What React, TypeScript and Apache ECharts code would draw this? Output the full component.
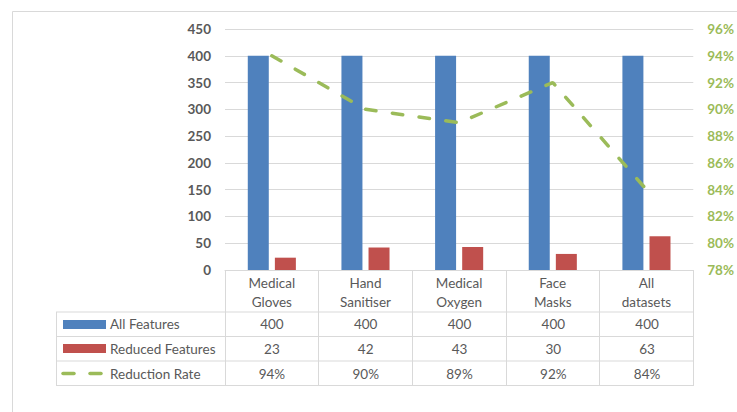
import React, { useEffect, useRef } from "react";
import * as echarts from "echarts";

const categories = ["Medical Gloves", "Hand Sanitiser", "Medical Oxygen", "Face Masks", "All datasets"];
const allFeatures = [400, 400, 400, 400, 400];
const reducedFeatures = [23, 42, 43, 30, 63];
const reductionRate = [94, 90, 89, 92, 84];
const seriesNames = ["All Features", "Reduced Features", "Reduction Rate"];

const BLUE = "#4F81BD";
const RED = "#C0504D";
const GREEN = "#9BBB59";
const GRID = "#D9D9D9";
const TEXT = "#595959";
const FONT = "Lato";

const W = 737;
const H = 412;
const PL = 225;
const PR = 694;
const PT = 29;
const PB = 270;

export default function App() {
  const ref = useRef<HTMLDivElement>(null);
  useEffect(() => {
    if (!ref.current) return;
    const chart = echarts.init(ref.current, undefined, { renderer: "svg" });
    const cellW = (PR - PL) / categories.length;
    const rowY = [312, 336.5, 361, 385.5];
    const rowMid = [323.5, 349, 373.5];
    const graphics: any[] = [];
    graphics.push({
      type: "rect",
      silent: true,
      shape: { x: 12.5, y: 11.5, width: 900, height: 600 },
      style: { fill: "none", stroke: GRID, lineWidth: 1 },
    });
    rowY.forEach((y) => {
      graphics.push({
        type: "line",
        silent: true,
        shape: { x1: 56, y1: y, x2: PR, y2: y },
        style: { stroke: GRID, lineWidth: 1 },
      });
    });
    graphics.push({
      type: "line",
      silent: true,
      shape: { x1: 56.5, y1: rowY[0], x2: 56.5, y2: rowY[3] },
      style: { stroke: GRID, lineWidth: 1 },
    });
    // legend keys
    graphics.push({ type: "rect", silent: true, shape: { x: 63, y: 320, width: 43, height: 9 }, style: { fill: BLUE } });
    graphics.push({ type: "rect", silent: true, shape: { x: 63, y: 344, width: 43, height: 9 }, style: { fill: RED } });
    [[63, 74], [90, 101]].forEach(([a, b]) => {
      graphics.push({
        type: "line",
        silent: true,
        shape: { x1: a, y1: 373.5, x2: b, y2: 373.5 },
        style: { stroke: GREEN, lineWidth: 3.5, lineCap: "round" },
      });
    });
    seriesNames.forEach((n, r) => {
      graphics.push({
        type: "text",
        silent: true,
        x: 110,
        y: rowMid[r],
        style: { text: n, fill: TEXT, font: `13.5px ${FONT}`, verticalAlign: "middle", align: "left" },
      });
    });
    const rows = [
      allFeatures.map((v) => String(v)),
      reducedFeatures.map((v) => String(v)),
      reductionRate.map((v) => v + "%"),
    ];
    rows.forEach((row, r) => {
      row.forEach((t, i) => {
        graphics.push({
          type: "text",
          silent: true,
          x: PL + (i + 0.5) * cellW,
          y: rowMid[r],
          style: { text: t, fill: TEXT, font: `13.5px ${FONT}`, verticalAlign: "middle", align: "center" },
        });
      });
    });

    chart.setOption({
      animation: false,
      backgroundColor: "#ffffff",
      grid: { left: PL, right: W - PR, top: PT, bottom: H - PB, containLabel: false },
      xAxis: {
        type: "category",
        data: categories,
        boundaryGap: true,
        axisLine: { show: true, lineStyle: { color: GRID, width: 1 } },
        axisTick: { show: true, length: 115.5, interval: 0, lineStyle: { color: GRID, width: 1 } },
        axisLabel: {
          interval: 0,
          margin: 4,
          color: TEXT,
          fontFamily: FONT,
          fontSize: 13.5,
          lineHeight: 18.5,
          formatter: (v: string) => {
            const k = v.indexOf(" ");
            return k < 0 ? v : v.slice(0, k) + "\n" + v.slice(k + 1);
          },
        },
        splitLine: { show: false },
      },
      yAxis: [
        {
          type: "value",
          min: 0,
          max: 450,
          interval: 50,
          axisLine: { show: false },
          axisTick: { show: false },
          axisLabel: { margin: 14, color: "#595959", fontFamily: FONT, fontSize: 13.5, fontWeight: "bold" },
          splitLine: { show: true, lineStyle: { color: GRID, width: 1 } },
        },
        {
          type: "value",
          min: 78,
          max: 96,
          interval: 2,
          position: "right",
          axisLine: { show: false },
          axisTick: { show: false },
          axisLabel: {
            margin: 14,
            color: GREEN,
            fontFamily: FONT,
            fontSize: 13.5,
            fontWeight: "bold",
            formatter: "{value}%",
          },
          splitLine: { show: false },
        },
      ],
      series: [
        {
          name: seriesNames[0],
          type: "bar",
          data: allFeatures,
          barWidth: 21,
          barGap: "29%",
          itemStyle: { color: BLUE },
          z: 2,
        },
        {
          name: seriesNames[1],
          type: "bar",
          data: reducedFeatures,
          barWidth: 21,
          barGap: "29%",
          itemStyle: { color: RED },
          z: 2,
        },
        {
          name: seriesNames[2],
          type: "line",
          yAxisIndex: 1,
          data: reductionRate,
          symbol: "none",
          lineStyle: { color: GREEN, width: 3.5, type: [10.5, 16.5], cap: "round" },
          z: 5,
        },
      ],
      graphic: graphics,
    });
    return () => chart.dispose();
  }, []);
  return (
    <div
      ref={ref}
      style={{ position: "absolute", left: 0, top: 0, width: W, height: H, background: "#fff" }}
    />
  );
}
